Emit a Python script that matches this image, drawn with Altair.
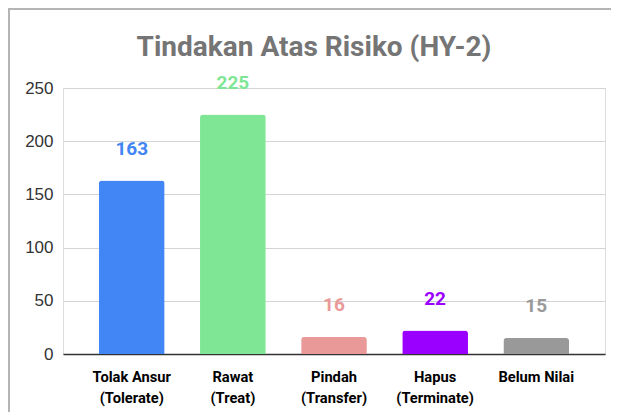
import altair as alt
import pandas as pd

title_text = "Tindakan Atas Risiko (HY-2)"
categories = ["Tolak Ansur (Tolerate)", "Rawat (Treat)", "Pindah (Transfer)", "Hapus (Terminate)", "Belum Nilai"]
values = [163, 225, 16, 22, 15]
colors = ["#4285f4", "#7ee694", "#ea9999", "#9900ff", "#999999"]
label_colors = ["#4285f4", "#7ee694", "#ea9999", "#9900ff", "#999999"]
y_ticks = [0, 50, 100, 150, 200, 250]

df = pd.DataFrame({"cat": categories, "val": values, "color": colors, "lcolor": label_colors})

x = alt.X("cat:N", sort=categories, title=None,
          scale=alt.Scale(paddingInner=0.35, paddingOuter=0.355),
          axis=alt.Axis(labelAngle=0, labelFont="Roboto", labelFontWeight="bold", labelFontSize=14.7,
                        labelColor="#000000", labelPadding=15, ticks=False, domainColor="#333333",
                        domainWidth=1.5, labelLineHeight=21,
                        labelExpr="split(datum.label, ' (').length > 1 ? [split(datum.label, ' (')[0], '(' + split(datum.label, ' (')[1]] : datum.label"))
y = alt.Y("val:Q", title=None, scale=alt.Scale(domain=[0, 250], nice=False),
          axis=alt.Axis(values=y_ticks, labelFont="Liberation Sans", labelFontSize=17, labelColor="#333333",
                        labelPadding=10, ticks=False, domain=False, gridColor="#d4d4d4", gridWidth=1.2))

bars = alt.Chart(df).mark_bar(cornerRadiusTopLeft=3, cornerRadiusTopRight=3).encode(
    x=x, y=y, color=alt.Color("color:N", scale=None))

labels = alt.Chart(df).mark_text(baseline="bottom", dy=-22, font="Roboto", fontWeight="bold", fontSize=19).encode(
    x=alt.X("cat:N", sort=categories), y="val:Q", text="val:Q", color=alt.Color("lcolor:N", scale=None))

title = alt.Chart(pd.DataFrame({"t": [title_text]})).mark_text(
    font="Roboto", fontWeight="bold", fontSize=28, color="#757575", align="center", baseline="alphabetic").encode(
    text="t:N", x=alt.value(251), y=alt.value(-32))

frame_top = alt.Chart(df).mark_rule(color="#b4b4b4", strokeWidth=2).encode(
    x=alt.value(-60), x2=alt.value(620), y=alt.value(-79))
frame_left = alt.Chart(df).mark_rule(color="#b4b4b4", strokeWidth=2).encode(
    x=alt.value(-54), y=alt.value(-80), y2=alt.value(400))

chart = alt.layer(bars, labels, title, frame_top, frame_left).properties(
    width=542, height=266,
    padding={"left": 55, "top": 80, "right": 6, "bottom": 58},
    autosize=alt.AutoSizeParams(type="none"),
).configure_view(stroke=None).configure(background="white")

chart.save("out.html", embed_options={"renderer": "svg", "actions": False})
